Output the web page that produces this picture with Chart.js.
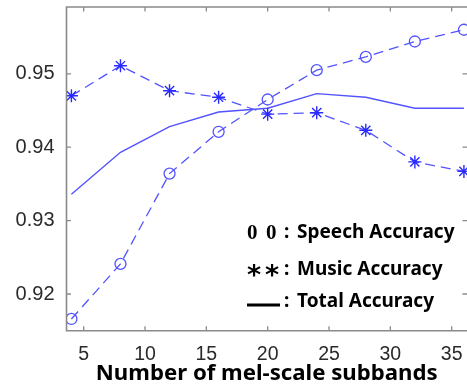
<!DOCTYPE html>
<html><head><meta charset="utf-8">
<script src="https://cdn.jsdelivr.net/npm/chart.js@4"></script>
<style>html,body{margin:0;padding:0;background:#fff}#wrap{width:467px;height:387px}</style>
</head><body><div id="wrap"><canvas id="c" width="467" height="387"></canvas></div>
<script>
const subbands = [4, 8, 12, 16, 20, 24, 28, 32, 36];
const speechAcc = [0.9166, 0.9241, 0.9364, 0.9421, 0.9465, 0.9505, 0.9523, 0.9544, 0.9560];
const musicAcc  = [0.9470, 0.9511, 0.9477, 0.9468, 0.9445, 0.9447, 0.9423, 0.9380, 0.9367];
const totalAcc  = [0.9336, 0.9393, 0.9428, 0.9448, 0.9453, 0.9473, 0.9468, 0.9453, 0.9453];
const xTicks = [5, 10, 15, 20, 25, 30, 35];
const yTicks = [0.92, 0.93, 0.94, 0.95];
const legendLabels = ['Speech Accuracy', 'Music Accuracy', 'Total Accuracy'];
const xTitle = 'Number of mel-scale subbands';

const toPts = arr => subbands.map((x, i) => ({x: x, y: arr[i]}));
const blue = '#5353ff';

const framePlugin = {
  id: 'frame',
  afterDraw(chart) {
    const ctx = chart.ctx, a = chart.chartArea;
    const xs = chart.scales.x, ys = chart.scales.y;
    ctx.save();
    ctx.strokeStyle = '#8a8a8a';
    ctx.lineWidth = 1.6;
    ctx.beginPath();
    ctx.moveTo(a.right + 2, a.top); ctx.lineTo(a.left, a.top);
    ctx.lineTo(a.left, a.bottom); ctx.lineTo(a.right + 2, a.bottom);
    ctx.stroke();
    ctx.lineWidth = 1.3;
    const tl = 4.5;
    ctx.beginPath();
    xTicks.forEach(v => {
      const px = xs.getPixelForValue(v);
      ctx.moveTo(px, a.bottom); ctx.lineTo(px, a.bottom - tl);
      ctx.moveTo(px, a.top); ctx.lineTo(px, a.top + tl);
    });
    yTicks.forEach(v => {
      const py = ys.getPixelForValue(v);
      ctx.moveTo(a.left, py); ctx.lineTo(a.left + tl, py);
      ctx.moveTo(a.right, py); ctx.lineTo(a.right - tl, py);
    });
    ctx.stroke();
    // legend
    ctx.fillStyle = '#000';
    const rows = [233, 270, 302];
    ctx.textBaseline = 'middle';
    ctx.font = 'bold 21px "Liberation Serif"';
    ctx.fillText('0', 247, rows[0] + 1);
    ctx.fillText('0', 266, rows[0] + 1);
    ctx.textBaseline = 'alphabetic';
    ctx.font = 'bold 27px "DejaVu Sans"';
    ctx.fillText('*', 247, rows[1] + 14);
    ctx.fillText('*', 265, rows[1] + 14);
    ctx.lineWidth = 3;
    ctx.strokeStyle = '#000';
    ctx.beginPath(); ctx.moveTo(247, rows[2] + 3); ctx.lineTo(280, rows[2] + 3); ctx.stroke();
    ctx.textBaseline = 'middle';
    ctx.font = 'bold 19px "Noto Sans"';
    rows.forEach((ry, i) => {
      ctx.fillText(':', 284, ry);
      ctx.fillText(legendLabels[i], 297, ry);
    });
    ctx.restore();
  }
};

new Chart(document.getElementById('c'), {
  type: 'line',
  data: {
    datasets: [
      {label: legendLabels[0], data: toPts(speechAcc), borderColor: blue, borderWidth: 1.3,
       borderDash: [10, 6], pointStyle: 'circle', pointRadius: 5.5, pointBorderColor: blue,
       pointBackgroundColor: 'rgba(0,0,0,0)', pointBorderWidth: 1.3, tension: 0},
      {label: legendLabels[1], data: toPts(musicAcc), borderColor: blue, borderWidth: 1.3,
       borderDash: [10, 6], pointStyle: 'star', pointRadius: 6.5, pointBorderColor: '#2a2aff',
       pointBackgroundColor: 'rgba(0,0,0,0)', pointBorderWidth: 1.4, tension: 0},
      {label: legendLabels[2], data: toPts(totalAcc), borderColor: blue, borderWidth: 1.4,
       pointRadius: 0, tension: 0}
    ]
  },
  options: {
    responsive: false,
    animation: false,
    devicePixelRatio: 1,
    layout: {autoPadding: false, padding: {top: 7, right: 0, left: 0, bottom: 0}},
    plugins: {legend: {display: false}, tooltip: {enabled: false}},
    scales: {
      x: {
        type: 'linear', min: 3.6, max: 36.25,
        afterBuildTicks: s => { s.ticks = xTicks.map(v => ({value: v})); },
        afterFit: s => { s.height = 56.3; s.paddingLeft = 0; s.paddingRight = 0; },
        grid: {display: false, drawTicks: false},
        border: {display: false},
        ticks: {padding: 12, color: '#2a2a2a', font: {family: '"Liberation Sans"', size: 19.5}},
        title: {display: true, text: xTitle, color: '#000', padding: {top: 0, bottom: 0},
                font: {family: '"Noto Sans"', size: 22.2, weight: 'bold', lineHeight: 1.2}}
      },
      y: {
        type: 'linear', min: 0.915, max: 0.9591,
        afterBuildTicks: s => { s.ticks = yTicks.map(v => ({value: v})); },
        afterFit: s => { s.width = 66.5; s.paddingTop = 0; s.paddingBottom = 0; },
        grid: {display: false, drawTicks: false},
        border: {display: false},
        ticks: {padding: 12, color: '#2a2a2a', font: {family: '"Liberation Sans"', size: 20},
                callback: v => v.toFixed(2)}
      }
    }
  },
  plugins: [framePlugin]
});
</script></body></html>
